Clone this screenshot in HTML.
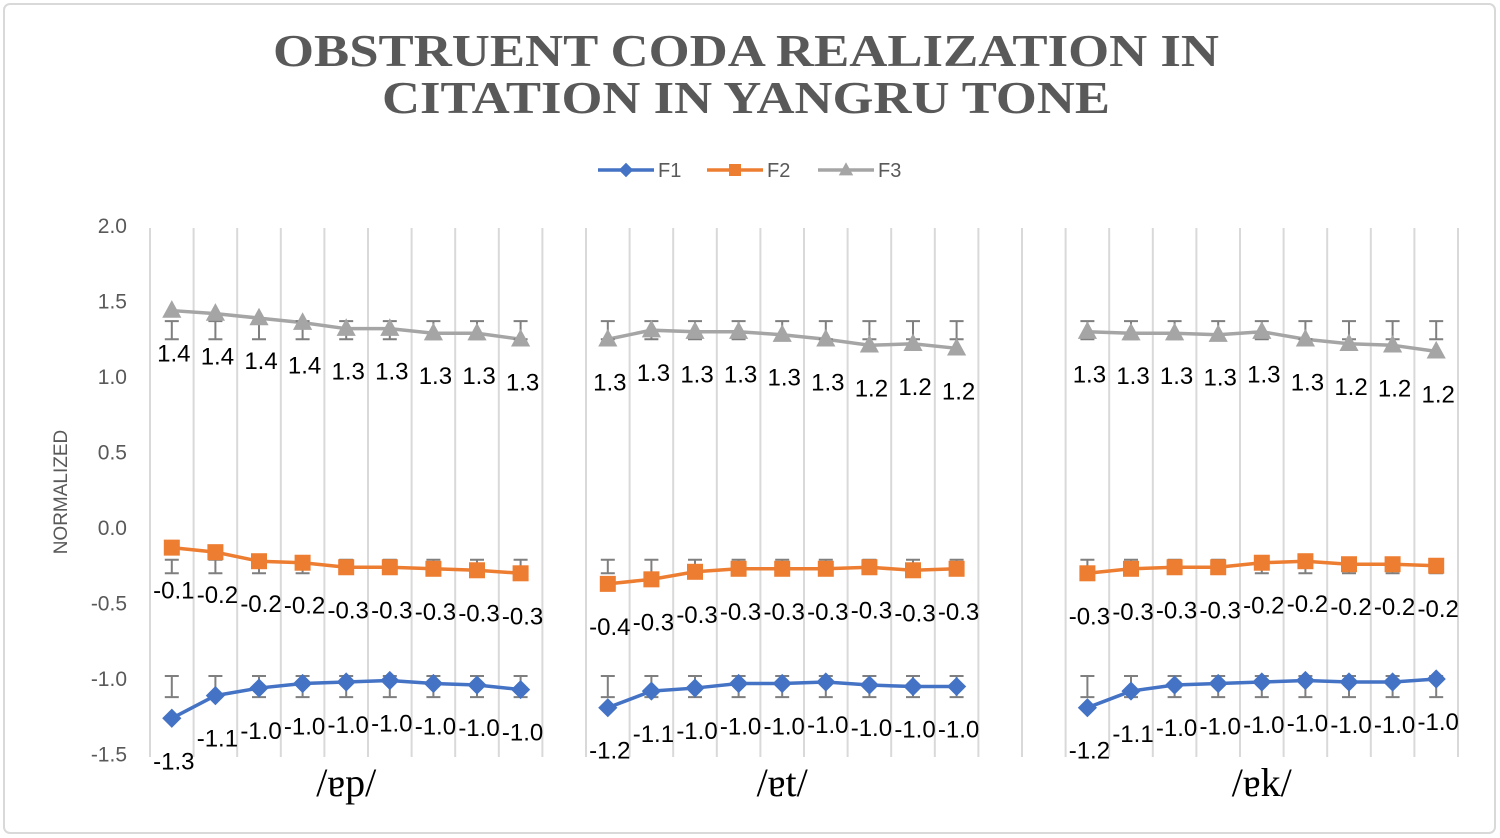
<!DOCTYPE html>
<html><head><meta charset="utf-8"><style>
html,body{margin:0;padding:0;background:#fff;}
svg{display:block;}
</style></head><body>
<svg id="chart" width="1500" height="838" xmlns="http://www.w3.org/2000/svg">
<rect x="4" y="4" width="1491" height="829" rx="6" fill="#fff" stroke="#d9d9d9" stroke-width="2"/>
<g font-family="Liberation Serif, serif" font-weight="bold" fill="#595959" font-size="46" text-anchor="middle">
<text x="746" y="66" textLength="946" lengthAdjust="spacingAndGlyphs">OBSTRUENT CODA REALIZATION IN</text>
<text x="746" y="113" textLength="728" lengthAdjust="spacingAndGlyphs">CITATION IN YANGRU TONE</text>
</g>
<g id="legend" font-family="Liberation Sans, sans-serif" font-size="20" fill="#595959"></g>
<text x="67" y="492" transform="rotate(-90 67 492)" text-anchor="middle" font-family="Liberation Sans, sans-serif" font-size="19" fill="#595959">NORMALIZED</text>
<g id="grid"></g><g id="yticks"></g><g id="series"></g><g id="cats"></g>
</svg>
<script>
const groups = ["/ɐp/", "/ɐt/", "/ɐk/"];
const groupStart = [0, 10, 21];
const yTicks = [2.0, 1.5, 1.0, 0.5, 0.0, -0.5, -1.0, -1.5];
const f1Values = [-1.26,-1.11,-1.06,-1.03,-1.02,-1.01,-1.03,-1.04,-1.07, -1.19,-1.08,-1.06,-1.03,-1.03,-1.02,-1.04,-1.05,-1.05, -1.19,-1.08,-1.04,-1.03,-1.02,-1.01,-1.02,-1.02,-1.00];
const f2Values = [-0.13,-0.16,-0.22,-0.23,-0.26,-0.26,-0.27,-0.28,-0.30, -0.37,-0.34,-0.29,-0.27,-0.27,-0.27,-0.26,-0.28,-0.27, -0.30,-0.27,-0.26,-0.26,-0.23,-0.22,-0.24,-0.24,-0.25];
const f3Values = [1.44,1.42,1.39,1.36,1.32,1.32,1.29,1.29,1.25, 1.25,1.31,1.30,1.30,1.28,1.25,1.21,1.22,1.19, 1.30,1.29,1.29,1.28,1.30,1.25,1.22,1.21,1.17];
const f1Labels = ["-1.3","-1.1","-1.0","-1.0","-1.0","-1.0","-1.0","-1.0","-1.0","-1.2","-1.1","-1.0","-1.0","-1.0","-1.0","-1.0","-1.0","-1.0","-1.2","-1.1","-1.0","-1.0","-1.0","-1.0","-1.0","-1.0","-1.0"];
const f2Labels = ["-0.1","-0.2","-0.2","-0.2","-0.3","-0.3","-0.3","-0.3","-0.3","-0.4","-0.3","-0.3","-0.3","-0.3","-0.3","-0.3","-0.3","-0.3","-0.3","-0.3","-0.3","-0.3","-0.2","-0.2","-0.2","-0.2","-0.2"];
const f3Labels = ["1.4","1.4","1.4","1.4","1.3","1.3","1.3","1.3","1.3","1.3","1.3","1.3","1.3","1.3","1.3","1.2","1.2","1.2","1.3","1.3","1.3","1.3","1.3","1.3","1.2","1.2","1.2"];
const f1ErrLow = -1.12, f1ErrHigh = -0.98;
const f2ErrLow = -0.30, f2ErrHigh = -0.21;
const f3ErrLow = 1.25, f3ErrHigh = 1.37;

const NS = "http://www.w3.org/2000/svg";
const X0 = 150, STEP = 43.6, NCAT = 30;
function xOf(k){ return X0 + STEP * k; }
function yOf(v){ return 528 - 151 * v; }
function mk(tag, attrs, parent){ const e = document.createElementNS(NS, tag); for (const k in attrs) e.setAttribute(k, attrs[k]); parent.appendChild(e); return e; }
const grid = document.getElementById('grid');
for (let k = 0; k <= NCAT; k++) {
  const l = mk('line', {x1:xOf(k), x2:xOf(k), y1:228, y2:757, stroke:'#d9d9d9', 'stroke-width':2}, grid);
  
  
}
const yt = document.getElementById('yticks');
yTicks.forEach(v => {
  const t = mk('text', {x:127, y:yOf(v)+7, 'text-anchor':'end', 'font-family':'Liberation Sans, sans-serif', 'font-size':21, fill:'#595959'}, yt);
  t.textContent = v.toFixed(1);
  
  
});
const cats = document.getElementById('cats');
groups.forEach((g, i) => {
  const t = mk('text', {x:xOf(groupStart[i] + 4.5), y:796, 'text-anchor':'middle', 'font-family':'Liberation Serif, DejaVu Serif, serif', 'font-size':40, fill:'#000'}, cats);
  t.textContent = g;
  
  
});
function idxToK(i){ const g = Math.floor(i / 9); return groupStart[g] + (i % 9) + 0.5; }
const seriesG = document.getElementById('series');
const series = [
  {name:'f3', vals:f3Values, labels:f3Labels, lo:f3ErrLow, hi:f3ErrHigh, color:'#a5a5a5', marker:'tri'},
  {name:'f2', vals:f2Values, labels:f2Labels, lo:f2ErrLow, hi:f2ErrHigh, color:'#ed7d31', marker:'sq'},
  {name:'f1', vals:f1Values, labels:f1Labels, lo:f1ErrLow, hi:f1ErrHigh, color:'#4472c4', marker:'dia'}
];
function drawMarker(type, cx, cy, color, parent, s){
  let e;
  if (type === 'sq') e = mk('rect', {x:cx-s, y:cy-s, width:2*s, height:2*s, fill:color}, parent);
  else if (type === 'dia') e = mk('polygon', {points:`${cx},${cy-s*1.2} ${cx+s*1.2},${cy} ${cx},${cy+s*1.2} ${cx-s*1.2},${cy}`, fill:color}, parent);
  else e = mk('polygon', {points:`${cx},${cy-s*1.3} ${cx+s*1.2},${cy+s*0.9} ${cx-s*1.2},${cy+s*0.9}`, fill:color}, parent);
  return e;
}
series.forEach(s => {
  const g = mk('g', {}, seriesG);
  
  
  for (let p = 0; p < 3; p++) {
    const pts = [];
    for (let j = 0; j < 9; j++) { const i = p*9 + j; pts.push(xOf(idxToK(i)) + ',' + yOf(s.vals[i])); }
    const pl = mk('polyline', {points:pts.join(' '), fill:'none', stroke:s.color, 'stroke-width':3.5}, g);
    
    
  }
  s.vals.forEach((v, i) => {
    const cx = xOf(idxToK(i));
    const eb = mk('path', {d:`M${cx},${yOf(s.lo)}V${yOf(s.hi)}M${cx-7},${yOf(s.lo)}H${cx+7}M${cx-7},${yOf(s.hi)}H${cx+7}`, stroke:'#7f7f7f', 'stroke-width':2, fill:'none'}, g);
    
    
    const m = drawMarker(s.marker, cx, yOf(v), s.color, g, 8);
    
    
    const t = mk('text', {x:cx+2, y:yOf(v)+51, 'text-anchor':'middle', 'font-family':'Liberation Sans, sans-serif', 'font-size':24, fill:'#000'}, g);
    t.textContent = s.labels[i];
    
    
  });
});
const lg = document.getElementById('legend');
[['F1','#4472c4','dia',598],['F2','#ed7d31','sq',707],['F3','#a5a5a5','tri',818]].forEach(([n,c,m,x]) => {
  const g = mk('g', {}, lg);
  
  
  mk('line', {x1:x, x2:x+56, y1:170, y2:170, stroke:c, 'stroke-width':3.5}, g);
  drawMarker(m, x+28, 170, c, g, 6);
  const t = mk('text', {x:x+60, y:177, fill:'#595959'}, g);
  t.textContent = n;
});
</script>
</body></html>
